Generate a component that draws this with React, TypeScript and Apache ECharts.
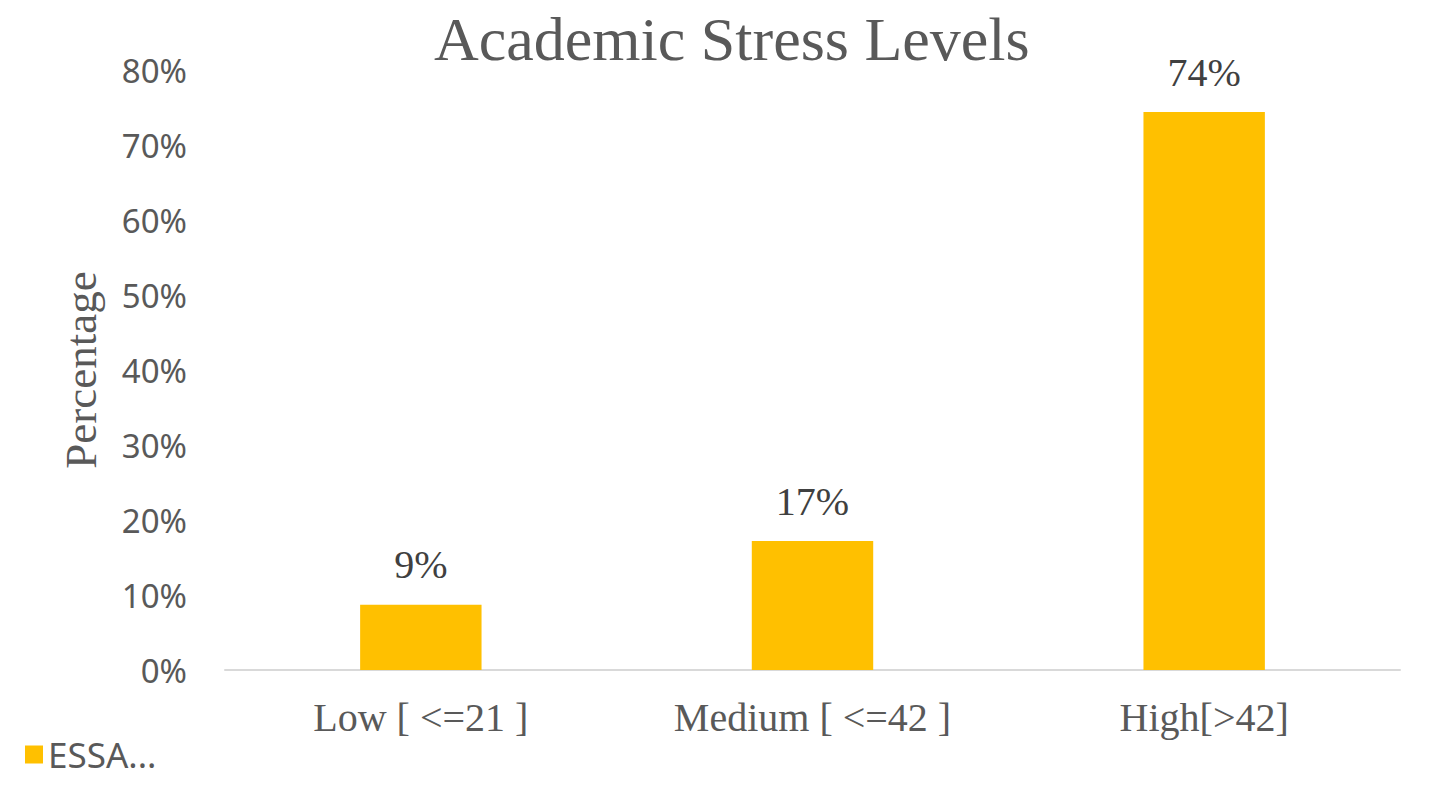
import React, { useEffect, useRef } from "react";
import * as echarts from "echarts";

const title = "Academic Stress Levels";
const categories = ["Low [ <=21 ]", "Medium [ <=42 ]", "High[>42]"];
const values = [8.7, 17.2, 74.4];
const seriesName = "ESSA...";
const yTicks = { min: 0, max: 80, interval: 10 };
const yAxisName = "Percentage";

export default function App() {
  const ref = useRef<HTMLDivElement>(null);
  useEffect(() => {
    if (!ref.current) return;
    const chart = echarts.init(ref.current, null, { renderer: "svg" });
    const serif = "'Liberation Serif', 'Times New Roman', serif";
    const sans = "'Noto Sans', 'Open Sans', sans-serif";
    chart.setOption({
      animation: false,
      backgroundColor: "#ffffff",
      title: {
        text: title,
        left: 429,
        top: 3,
        textStyle: { fontFamily: serif, fontSize: 62, fontWeight: "normal", color: "#595959" },
      },
      legend: {
        left: 20,
        bottom: 11,
        itemWidth: 18,
        itemHeight: 18,
        itemGap: 8,
        icon: "rect",
        textStyle: { fontFamily: sans, fontSize: 35, color: "#595959" },
        data: [seriesName],
      },
      grid: { left: 225, right: 29, top: 70, bottom: 118 },
      xAxis: {
        type: "category",
        data: categories,
        axisLine: { lineStyle: { color: "#D9D9D9", width: 2 } },
        axisTick: { show: false },
        axisLabel: { fontFamily: serif, fontSize: 40, color: "#595959", margin: 27 },
      },
      yAxis: {
        type: "value",
        min: yTicks.min,
        max: yTicks.max,
        interval: yTicks.interval,
        name: yAxisName,
        nameLocation: "middle",
        nameGap: 122,
        nameTextStyle: { fontFamily: serif, fontSize: 45, color: "#595959" },
        splitLine: { show: false },
        axisLine: { show: false },
        axisTick: { show: false },
        axisLabel: {
          fontFamily: sans,
          fontSize: 33,
          color: "#595959",
          margin: 38,
          formatter: (v: number) => `${v}%`,
        },
      },
      series: [
        {
          name: seriesName,
          type: "bar",
          data: values,
          barWidth: "31%",
          itemStyle: { color: "#FFC000" },
          label: {
            show: true,
            position: "top",
            distance: 20,
            fontFamily: serif,
            fontSize: 40,
            color: "#404040",
            formatter: (p: any) => `${Math.round(p.value)}%`,
          },
        },
      ],
    });
    return () => chart.dispose();
  }, []);
  return (
    <div
      ref={ref}
      style={{ position: "absolute", left: 0, top: 0, width: 1429, height: 788 }}
    />
  );
}
